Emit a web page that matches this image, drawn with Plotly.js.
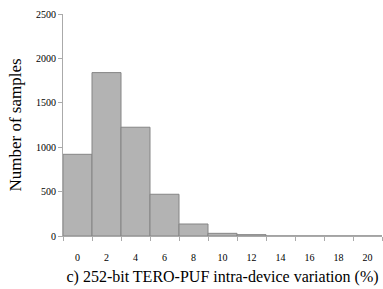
<!DOCTYPE html>
<html>
<head>
<meta charset="utf-8">
<script src="https://cdn.plot.ly/plotly-3.0.1.min.js"></script>
<style>html,body{margin:0;padding:0;background:#fff;}</style>
</head>
<body>
<div id="chart" style="width:383px;height:289px;"></div>
<script>
const categories = ['0','2','4','6','8','10','12','14','16','18','20'];
const samples = [920, 1840, 1225, 470, 135, 30, 15, 0, 0, 0, 0];

const trace = {
  type: 'bar',
  x: categories,
  y: samples,
  marker: {color: '#b3b3b3', line: {color: '#858585', width: 1}},
  hoverinfo: 'x+y'
};

const layout = {
  width: 383, height: 289,
  margin: {l: 63, r: 1, t: 14, b: 53},
  paper_bgcolor: '#fff', plot_bgcolor: '#fff',
  bargap: 0,
  showlegend: false,
  font: {family: '"Liberation Serif", "Times New Roman", serif', color: '#000'},
  xaxis: {
    type: 'category',
    showline: true, linecolor: '#aaaaaa', linewidth: 1,
    ticks: 'outside', tickson: 'boundaries', ticklen: 4, tickcolor: '#aaaaaa',
    ticklabelstandoff: 12,
    showgrid: false, zeroline: false,
    tickfont: {size: 10},
    title: {text: 'c) 252-bit TERO-PUF intra-device variation (%)', font: {size: 16}, standoff: 8}
  },
  yaxis: {
    range: [0, 2500],
    tickvals: [0, 500, 1000, 1500, 2000, 2500],
    showline: true, linecolor: '#aaaaaa', linewidth: 1,
    ticks: 'outside', ticklen: 4, tickcolor: '#aaaaaa',
    showgrid: false, zeroline: false,
    tickfont: {size: 10},
    title: {text: 'Number of samples', font: {size: 17}, standoff: 10}
  }
};

Plotly.newPlot('chart', [trace], layout, {staticPlot: true, displayModeBar: false});
</script>
</body>
</html>
